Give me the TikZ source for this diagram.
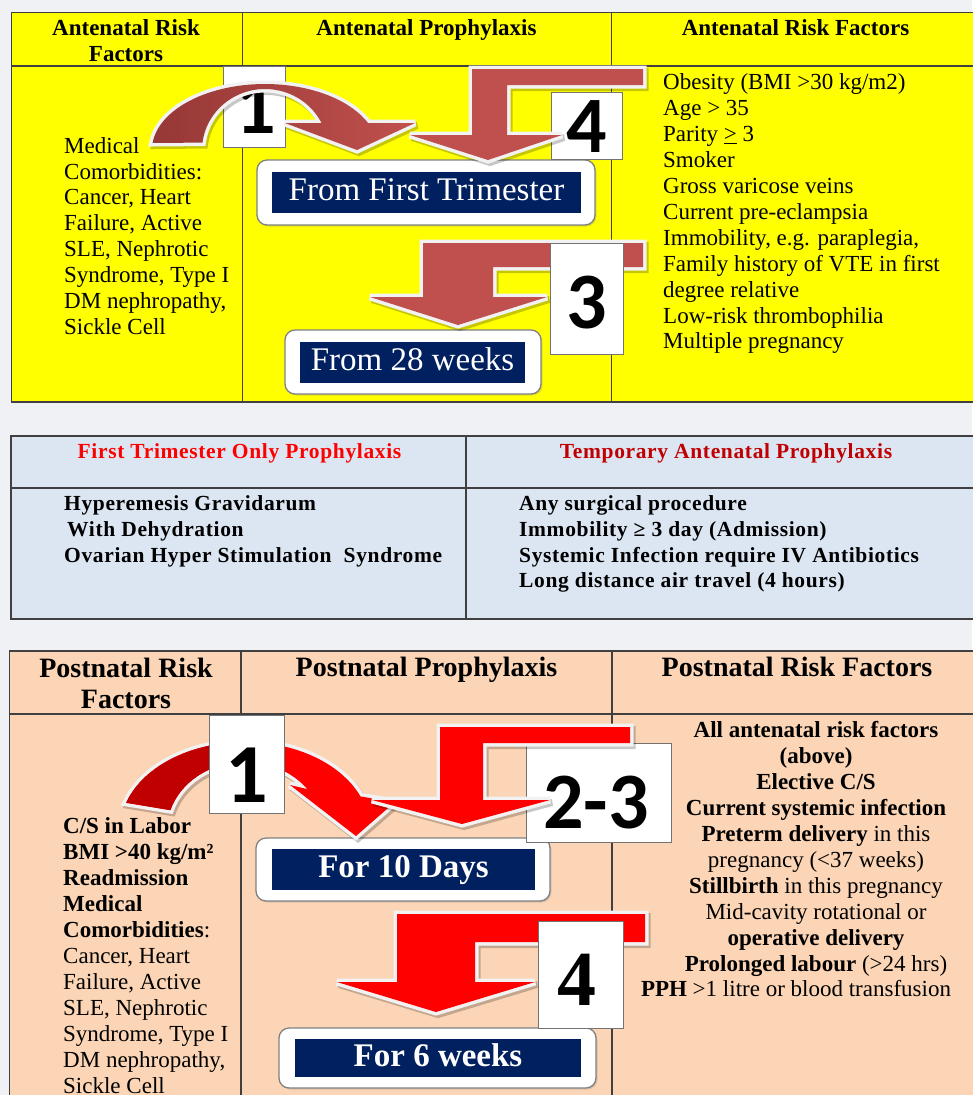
\documentclass[tikz,border=0pt]{standalone}
\usepackage{fontspec}
\setmainfont{Liberation Serif}
\newfontfamily\numfont{Carlito}
\newfontfamily\midfont[LetterSpace=3]{Liberation Serif}
\usetikzlibrary{shadows}
\definecolor{pageG}{RGB}{240,241,244}
\definecolor{antY}{RGB}{255,255,0}
\definecolor{midB}{RGB}{220,230,242}
\definecolor{postP}{RGB}{251,213,181}
\definecolor{navyB}{RGB}{0,32,96}
\definecolor{arrR}{RGB}{192,80,77}
\definecolor{arrRd}{RGB}{150,56,54}
\definecolor{hotR}{RGB}{255,0,0}
\definecolor{hotRd}{RGB}{192,0,0}
\definecolor{glowW}{RGB}{242,242,242}

\begin{document}
\begin{tikzpicture}[x=1pt,y=-1pt,
  tabline/.style={draw=black!75,line width=1.1pt},
  hd/.style={inner sep=0pt,font=\bfseries\fontsize{23}{26}\selectfont},
  hdbig/.style={inner sep=0pt,font=\bfseries\fontsize{28}{31.3}\selectfont},
  txt/.style={inner sep=0pt,font=\fontsize{23}{25.9}\selectfont},
  midtxt/.style={inner sep=0pt,font=\midfont\bfseries\fontsize{21.5}{25.7}\selectfont},
  numbox/.style={draw=black!55,fill=white,line width=1pt,inner sep=0pt},
  numtxt/.style={inner sep=0pt,anchor=base,font=\numfont\bfseries\fontsize{80}{80}\selectfont},
  tagframe/.style={draw=black!50,fill=white,line width=1.3pt,rounded corners=10pt,inner sep=0pt,
    drop shadow={opacity=.25,shadow xshift=1.5pt,shadow yshift=-1.5pt}},
  tagfill/.style={fill=navyB,text=white,inner sep=0pt,text height=22pt,text depth=6pt},
  blockarrow/.style={
    preaction={draw=black,fill=black,opacity=.22,line width=7pt,line join=miter,miter limit=2.5,
      transform canvas={shift={(2pt,-2.5pt)}}},
    preaction={draw=glowW,line width=7pt,line join=miter,miter limit=2.5}}]
\useasboundingbox[fill=pageG] (0,0) rectangle (972,1095);

% ---- antenatal table
\fill[antY] (11.5,12.5) rectangle (980,402);
\draw[tabline] (980,12.5) -- (11.5,12.5) -- (11.5,402) -- (980,402);
\draw[tabline] (11.5,66) -- (980,66);
\draw[tabline] (242.5,12.5) -- (242.5,402);
\draw[tabline] (611.5,12.5) -- (611.5,402);
\node[hd,align=center,anchor=north] (antHeadL) at (126,19.5) {Antenatal Risk\\Factors};
\node[hd,anchor=base] (antHeadM) at (426.5,35) {Antenatal Prophylaxis};
\node[hd,anchor=base] (antHeadR) at (795.5,35) {Antenatal Risk Factors};
\node[txt,align=left,anchor=north west] (antMed) at (64,137) {Medical\\Comorbidities:\\Cancer, Heart\\Failure, Active\\SLE, Nephrotic\\Syndrome, Type I\\DM nephropathy,\\Sickle Cell};
\node[txt,align=left,anchor=north west] (antList) at (663,73.8) {Obesity (BMI >30 kg/m2)\\Age > 35\\Parity \underline{>} 3\\Smoker\\Gross varicose veins\\Current pre-eclampsia\\Immobility, e.g. paraplegia,\\Family history of VTE in first\\degree relative\\Low-risk thrombophilia\\Multiple pregnancy};
\node[tagframe,minimum width=338pt,minimum height=65pt] (ftFrame) at (426,192.5) {};
\node[tagfill,minimum width=309pt,minimum height=41pt,font=\fontsize{33}{33}\selectfont] (ftTag) at (426.5,192.5) {From First Trimester};
\node[tagframe,minimum width=256pt,minimum height=64pt] (twFrame) at (413,362) {};
\node[tagfill,minimum width=225pt,minimum height=41pt,font=\fontsize{33}{33}\selectfont] (twTag) at (412.5,362.5) {From 28 weeks};
% step 1: curved arrow over its box
\node[numbox,minimum width=62pt,minimum height=81pt] (boxA1) at (254,106.5) {};
\node[numtxt] (numA1) at (256,133) {1};
\path[blockarrow,left color=arrRd,right color=arrR]
  (152.6,143) arc[start angle=186.1,end angle=335.85,x radius=113,y radius=66]
  -- (415,123) -- (357,150) -- (285,123) -- (321.5,123)
  arc[start angle=333.7,end angle=187,x radius=63,y radius=61] -- cycle;
% step 4
\node[numbox,minimum width=71pt,minimum height=67pt] (boxA4) at (586.5,125.5) {};
\path[blockarrow,fill=arrR] (643,69) -- (472,69) -- (472,135) -- (410,135) -- (488,160)
  -- (562,135) -- (507,135) -- (507,85) -- (643,85) -- cycle;
\node[numtxt] (numA4) at (587,152) {4};
% step 3
\path[blockarrow,fill=arrR] (643,243) -- (423,243) -- (423,297) -- (370,297) -- (458,325)
  -- (547,297) -- (493,297) -- (493,267) -- (643,267) -- cycle;
\node[numbox,minimum width=73pt,minimum height=111pt] (boxA3) at (586.5,298.5) {};
\node[numtxt] (numA3) at (586.5,328) {3};

% ---- first trimester / temporary table
\fill[midB] (11,436) rectangle (980,619);
\draw[tabline] (980,436) -- (11,436) -- (11,619) -- (980,619);
\draw[tabline] (11,488) -- (980,488);
\draw[tabline] (466,436) -- (466,619);
\node[midtxt,anchor=base,text=hotR] (midHeadL) at (239.5,458.3) {First Trimester Only Prophylaxis};
\node[midtxt,anchor=base,text=hotRd] (midHeadR) at (726,458.3) {Temporary Antenatal Prophylaxis};
\node[midtxt,align=left,anchor=north west] (midListL) at (64,495.5) {Hyperemesis Gravidarum\\\hspace*{3pt}With Dehydration\\Ovarian Hyper Stimulation\ \ Syndrome};
\node[midtxt,align=left,anchor=north west] (midListR) at (519,495.5) {Any surgical procedure\\Immobility ≥ 3 day (Admission)\\Systemic Infection require IV Antibiotics\\Long distance air travel (4 hours)};

% ---- postnatal table
\fill[postP] (9.5,651) rectangle (980,1100);
\draw[tabline] (980,651) -- (9.5,651) -- (9.5,1100);
\draw[tabline] (9.5,714) -- (980,714);
\draw[tabline] (241,651) -- (241,1100);
\draw[tabline] (612,651) -- (612,1100);
\node[hdbig,align=center,anchor=north] (postHeadL) at (126,657.8) {Postnatal Risk\\Factors};
\node[hdbig,anchor=base] (postHeadM) at (426.5,676.7) {Postnatal Prophylaxis};
\node[hdbig,anchor=base] (postHeadR) at (797,676.7) {Postnatal Risk Factors};
\node[txt,font=\fontsize{23}{26}\selectfont,align=left,anchor=north west] (postListL) at (63,817.1)
  {\textbf{C/S in Labor}\\\textbf{BMI >40 kg/m²}\\\textbf{Readmission}\\\textbf{Medical}\\\textbf{Comorbidities}:\\Cancer, Heart\\Failure, Active\\SLE, Nephrotic\\Syndrome, Type I\\DM nephropathy,\\Sickle Cell};
\node[txt,font=\fontsize{23}{26}\selectfont,align=center,anchor=north] (postListR) at (816,720.8)
  {\textbf{All antenatal risk factors}\\\textbf{(above)}\\\textbf{Elective C/S}\\\textbf{Current systemic infection}\\\textbf{Preterm delivery} in this\\pregnancy (<37 weeks)\\\textbf{Stillbirth} in this pregnancy\\Mid-cavity rotational or\\\textbf{operative delivery}\\\textbf{Prolonged labour} (>24 hrs)};
\node[txt,anchor=base] (postPPH) at (796,996.7) {\textbf{PPH} >1 litre or blood transfusion};
\node[tagframe,minimum width=294pt,minimum height=63pt] (tdFrame) at (403,869.5) {};
\node[tagfill,minimum width=263pt,minimum height=41pt,font=\bfseries\fontsize{33}{33}\selectfont] (tdTag) at (403.5,869.5) {For 10 Days};
\node[tagframe,minimum width=317pt,minimum height=60pt] (swFrame) at (437.5,1058) {};
\node[tagfill,minimum width=286pt,minimum height=38pt,font=\bfseries\fontsize{33}{33}\selectfont] (swTag) at (438,1058) {For 6 weeks};
% step 1: curved arrow behind its box
\path[blockarrow,fill=hotR,path picture={\fill[hotRd] (100,700) rectangle (246,850);}]
  (126.1,802.8) arc[start angle=198,end angle=337.6,x radius=125,y radius=88]
  -- (395,802) -- (356,836) -- (290,785) -- (307.3,789.1)
  arc[start angle=323,end angle=197,x radius=78,y radius=68] -- cycle;
\node[numbox,minimum width=75pt,minimum height=98pt] (boxB1) at (246.5,764) {};
\node[numtxt,font=\numfont\bfseries\fontsize{84}{84}\selectfont] (numB1) at (246.5,802) {1};
% steps 2-3
\node[numbox,minimum width=145pt,minimum height=99pt] (boxB23) at (598.5,792.5) {};
\path[blockarrow,fill=hotR] (630,727) -- (440,727) -- (440,800) -- (372,800) -- (462,824)
  -- (550,800) -- (483,800) -- (483,743) -- (630,743) -- cycle;
\node[numtxt] (numB23) at (596,828) {2-3};
% step 4
\path[blockarrow,fill=hotR] (645,914) -- (397,914) -- (397,982) -- (337,982) -- (436,1012)
  -- (535,982) -- (475,982) -- (475,942) -- (645,942) -- cycle;
\node[numbox,minimum width=85pt,minimum height=107pt] (boxB4) at (580.5,974.5) {};
\node[numtxt,font=\bfseries\fontsize{78}{78}\selectfont] (numB4) at (576.5,1005) {4};
\end{tikzpicture}
\end{document}
